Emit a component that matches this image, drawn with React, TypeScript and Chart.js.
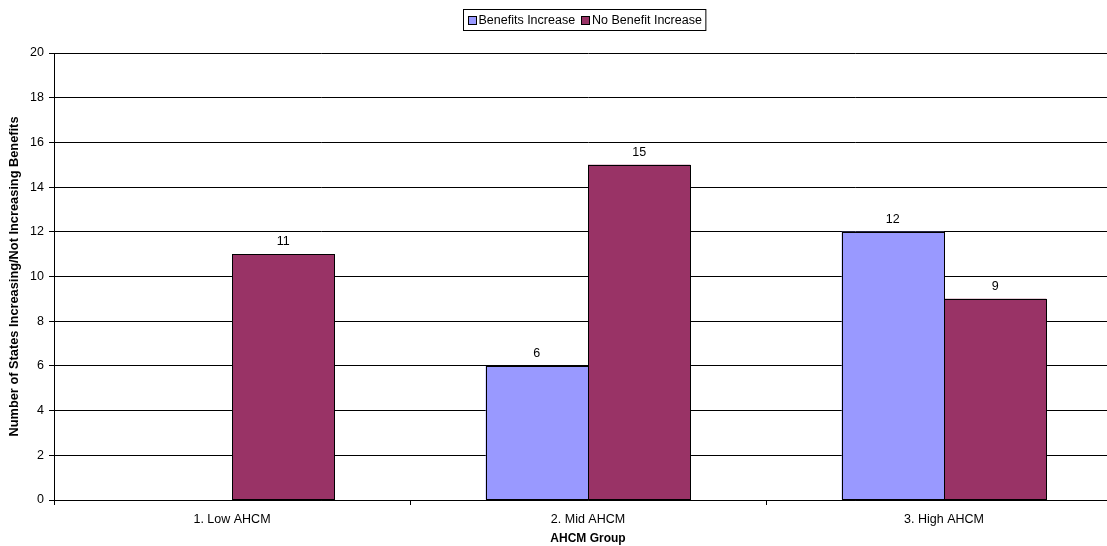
import React, { useEffect, useRef } from "react";
import { Chart, registerables } from "chart.js";

Chart.register(...registerables);

const categories = ["1. Low AHCM", "2. Mid AHCM", "3. High AHCM"];
const benefitsIncrease = [0, 6, 12];
const noBenefitIncrease = [11, 15, 9];
const seriesNames = ["Benefits Increase", "No Benefit Increase"];
const seriesColors = ["#9999FF", "#993366"];
const yMin = 0;
const yMax = 20;
const yStep = 2;
const xTitle = "AHCM Group";
const yTitle = "Number of States Increasing/Not Increasing Benefits";

const FONT = "'Liberation Sans', Arial, sans-serif";

const barOutlines = {
  id: "barOutlines",
  afterDatasetsDraw(chart: any) {
    const ctx = chart.ctx;
    ctx.save();
    ctx.strokeStyle = "#000";
    ctx.lineWidth = 1;
    chart.data.datasets.forEach((ds: any, i: number) => {
      const meta = chart.getDatasetMeta(i);
      meta.data.forEach((bar: any, j: number) => {
        const v = ds.data[j];
        if (!v) return;
        const l = Math.round(bar.x - bar.width / 2) + 0.5;
        const r = Math.round(bar.x + bar.width / 2) + 0.5;
        const t = Math.round(bar.y) + 0.5;
        const b = Math.round(bar.base) - 0.5;
        ctx.strokeRect(l, t, r - l, b - t);
      });
    });
    ctx.restore();
  },
};

const valueLabels = {
  id: "valueLabels",
  afterDatasetsDraw(chart: any) {
    const ctx = chart.ctx;
    ctx.save();
    ctx.font = `12.5px ${FONT}`;
    ctx.fillStyle = "#000";
    ctx.textAlign = "center";
    ctx.textBaseline = "alphabetic";
    chart.data.datasets.forEach((ds: any, i: number) => {
      const meta = chart.getDatasetMeta(i);
      meta.data.forEach((bar: any, j: number) => {
        const v = ds.data[j];
        if (!v) return;
        ctx.fillText(String(v), bar.x, bar.y - 9);
      });
    });
    ctx.restore();
  },
};

const boxedLegend = {
  id: "boxedLegend",
  afterDraw(chart: any) {
    const ctx = chart.ctx;
    ctx.save();
    ctx.font = `12.5px ${FONT}`;
    const sq = 8;
    const gap = 3;
    const itemGap = 6;
    const padX = 4;
    const widths = seriesNames.map((n) => ctx.measureText(n).width);
    let total = padX * 2;
    widths.forEach((w, i) => {
      total += sq + gap + w + (i < widths.length - 1 ? itemGap : 0);
    });
    const cx = 584;
    const top = 9;
    const h = 21;
    const left = Math.round(cx - total / 2) + 0.5;
    ctx.strokeStyle = "#000";
    ctx.lineWidth = 1;
    ctx.fillStyle = "#fff";
    ctx.fillRect(left, top + 0.5, total, h);
    ctx.strokeRect(left, top + 0.5, total, h);
    let x = left + padX;
    const midY = top + h / 2 + 0.5;
    seriesNames.forEach((n, i) => {
      ctx.fillStyle = seriesColors[i];
      const sy = Math.round(midY - sq / 2) + 0.5;
      const sx = Math.round(x) + 0.5;
      ctx.fillRect(sx, sy, sq, sq);
      ctx.strokeStyle = "#000";
      ctx.strokeRect(sx, sy, sq, sq);
      x += sq + gap;
      ctx.fillStyle = "#000";
      ctx.textAlign = "left";
      ctx.textBaseline = "middle";
      ctx.fillText(n, x, midY + 0.5);
      x += widths[i] + itemGap;
    });
    ctx.restore();
  },
};

export default function App() {
  const ref = useRef<HTMLCanvasElement>(null);

  useEffect(() => {
    if (!ref.current) return;
    const chart = new Chart(ref.current, {
      type: "bar",
      data: {
        labels: categories,
        datasets: [
          {
            label: seriesNames[0],
            data: benefitsIncrease,
            backgroundColor: seriesColors[0],
            borderWidth: 0,
            barPercentage: 1,
            categoryPercentage: 0.575,
          },
          {
            label: seriesNames[1],
            data: noBenefitIncrease,
            backgroundColor: seriesColors[1],
            borderWidth: 0,
            barPercentage: 1,
            categoryPercentage: 0.575,
          },
        ],
      },
      options: {
        responsive: false,
        animation: false,
        layout: { padding: { left: 0, top: 53, right: 18, bottom: 0 } },
        plugins: {
          legend: { display: false },
          tooltip: { enabled: false },
        },
        scales: {
          x: {
            offset: true,
            grid: {
              display: true,
              drawOnChartArea: false,
              drawTicks: true,
              tickLength: 5,
              color: "#000",
              offset: true,
            },
            border: { display: true, color: "#000", width: 1 },
            ticks: {
              color: "#000",
              font: { family: FONT, size: 12.5 },
              padding: 7,
              maxRotation: 0,
            },
            title: {
              display: true,
              text: xTitle,
              color: "#000",
              font: { family: FONT, size: 12, weight: "bold" },
              padding: { top: 0, bottom: 0 },
            },
            afterFit: (s: any) => {
              s.height = 46;
            },
          },
          y: {
            min: yMin,
            max: yMax,
            grid: {
              color: "#000",
              lineWidth: 1,
              tickLength: 5,
            },
            border: { display: true, color: "#000", width: 1 },
            ticks: {
              stepSize: yStep,
              color: "#000",
              font: { family: FONT, size: 12.5 },
              padding: 5,
            },
            title: {
              display: true,
              text: yTitle,
              color: "#000",
              font: { family: FONT, size: 12.8, weight: "bold" },
              padding: { top: 7, bottom: 0 },
            },
            afterFit: (s: any) => {
              s.width = 54;
            },
          },
        },
      },
      plugins: [barOutlines, valueLabels, boxedLegend],
    });
    return () => chart.destroy();
  }, []);

  return (
    <div
      style={{
        position: "absolute",
        left: 0,
        top: 0,
        width: 1107,
        height: 546,
        overflow: "hidden",
        background: "#fff",
      }}
    >
      <canvas ref={ref} width={1140} height={546} style={{ display: "block" }} />
    </div>
  );
}
